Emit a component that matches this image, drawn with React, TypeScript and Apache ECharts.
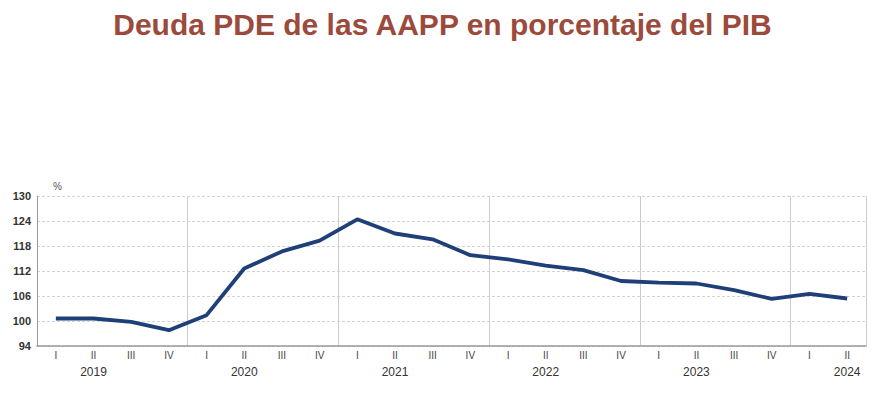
import React, { useEffect, useRef } from "react";
import * as echarts from "echarts";

const quarters = ["I","II","III","IV","I","II","III","IV","I","II","III","IV","I","II","III","IV","I","II","III","IV","I","II"];
const years = ["2019","2019","2019","2019","2020","2020","2020","2020","2021","2021","2021","2021","2022","2022","2022","2022","2023","2023","2023","2023","2024","2024"];
const debtValues = [100.6, 100.6, 99.8, 97.8, 101.4, 112.6, 116.7, 119.3, 124.4, 121.0, 119.6, 115.8, 114.8, 113.3, 112.2, 109.6, 109.2, 109.0, 107.4, 105.3, 106.5, 105.4];
const yTicks = [94, 100, 106, 112, 118, 124, 130];

export default function App() {
  const ref = useRef<HTMLDivElement>(null);
  useEffect(() => {
    if (!ref.current) return;
    const chart = echarts.init(ref.current, undefined, { renderer: "svg" });
    const cats = quarters.map((q, i) => q + "|" + years[i]);
    chart.setOption({
      animation: false,
      title: {
        text: "Deuda PDE de las AAPP en porcentaje del PIB",
        left: "center",
        top: -4,
        textStyle: { fontFamily: "Liberation Sans, Arial, sans-serif", fontSize: 30, fontWeight: "bold", color: "#9B4A3B" },
      },
      graphic: [
        { type: "text", left: 45, top: 173, style: { text: "%", fontSize: 10, fill: "#555", fontFamily: "Liberation Sans, Arial, sans-serif" } },
      ],
      grid: { left: 29, right: 11, top: 188, bottom: 45 },
      xAxis: {
        type: "category",
        data: cats,
        boundaryGap: true,
        axisLine: { show: true, lineStyle: { color: "#999", width: 1.5 } },
        axisTick: { show: false },
        splitLine: {
          show: true,
          interval: (i: number) => i % 4 === 0 && i > 0,
          lineStyle: { color: "#ccc", width: 1, type: "solid" },
        },
        axisLabel: {
          interval: 0,
          margin: 1,
          color: "#444",
          fontSize: 10,
          lineHeight: 16,
          fontFamily: "Liberation Sans, Arial, sans-serif",
          formatter: (v: string) => {
            const [q, y] = v.split("|");
            return q === "II" ? q + "\n{y|" + y + "}" : q;
          },
          rich: {
            y: { fontSize: 12, fontWeight: "normal", color: "#333", lineHeight: 18, fontFamily: "Liberation Sans, Arial, sans-serif" },
          },
        },
      },
      yAxis: {
        type: "value",
        min: yTicks[0],
        max: yTicks[yTicks.length - 1],
        interval: 6,
        axisLine: { show: true, lineStyle: { color: "#999", width: 1 } },
        axisTick: { show: false },
        splitLine: { show: true, lineStyle: { color: "#d4d4d4", type: [3, 2], width: 1 } },
        axisLabel: { color: "#333", fontSize: 11, fontWeight: "bold", margin: 6, fontFamily: "Liberation Sans, Arial, sans-serif" },
      },
      series: [
        {
          type: "line",
          data: debtValues,
          symbol: "none",
          lineStyle: { color: "#1F3F78", width: 3.8 },
        },
      ],
    });
    return () => chart.dispose();
  }, []);
  return <div ref={ref} style={{ width: 869, height: 383 }} />;
}
